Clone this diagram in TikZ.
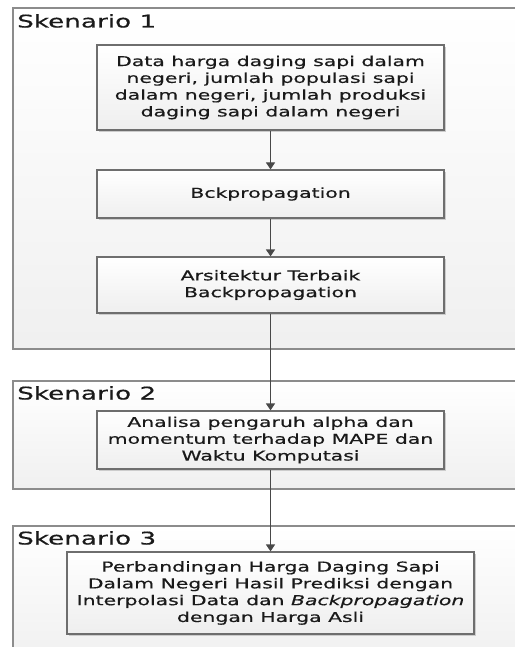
\documentclass[tikz,border=0pt]{standalone}
\usepackage{fontspec}
\setmainfont{DejaVu Sans}[FakeStretch=1.5,FakeBold=0.5]
\usetikzlibrary{arrows.meta,shadows}
\definecolor{boxline}{HTML}{6E6E6E}
\definecolor{frameline}{HTML}{8C8C8C}
\definecolor{arrowcol}{HTML}{484848}
\definecolor{txt}{HTML}{1A1A1A}
\tikzset{
  frame/.style={draw=frameline,line width=1.2bp,top color=white,bottom color=gray!12},
  stepbox/.style={draw=boxline,line width=1.2bp,top color=white,bottom color=gray!13,
    align=center,inner sep=0pt,minimum width=347bp,text=txt,
    font=\fontsize{13.6bp}{16.8bp}\selectfont,
    drop shadow={shadow xshift=1.6bp,shadow yshift=-1.6bp,fill=gray!40,opacity=1}},
  title/.style={anchor=base west,inner sep=0pt,text=txt,font=\fontsize{17.5bp}{20bp}\selectfont},
  flow/.style={draw=arrowcol,line width=1.2bp,-{Triangle[width=9bp,length=7bp]}}
}
\begin{document}
\begin{tikzpicture}[x=1bp,y=-1bp]
\useasboundingbox (0,0) rectangle (515,647);
\clip (0,0) rectangle (515,647);
\fill[white] (0,0) rectangle (515,647);
% frames
\path[frame] (13,8) rectangle (530,349);
\path[frame] (13,381) rectangle (530,489);
\path[frame] (13,526) rectangle (530,665);
\node[title] (t1) at (17,27.5) {Skenario 1};
\node[title] (t2) at (17,399.5) {Skenario 2};
\node[title] (t3) at (17,544.5) {Skenario 3};
% boxes
\node[stepbox,minimum height=85bp] (b1) at (270.5,87.5)
  {Data harga daging sapi dalam\\negeri, jumlah populasi sapi\\dalam negeri, jumlah produksi\\daging sapi dalam negeri};
\node[stepbox,minimum height=48bp] (b2) at (270.5,194) {Bckpropagation};
\node[stepbox,minimum height=56bp] (b3) at (270.5,285) {Arsitektur Terbaik\\Backpropagation};
\node[stepbox,minimum height=58bp] (b4) at (270.5,440)
  {Analisa pengaruh alpha dan\\momentum terhadap MAPE dan\\Waktu Komputasi};
\node[stepbox,minimum height=82bp,minimum width=407bp] (b5) at (270.5,593)
  {Perbandingan Harga Daging Sapi\\Dalam Negeri Hasil Prediksi dengan\\Interpolasi Data dan \textit{Backpropagation}\\dengan Harga Asli};
% arrows
\draw[flow] (b1) -- (b2);
\draw[flow] (b2) -- (b3);
\draw[flow] (b3) -- (b4);
\draw[flow] (b4) -- (b5);
\end{tikzpicture}
\end{document}
